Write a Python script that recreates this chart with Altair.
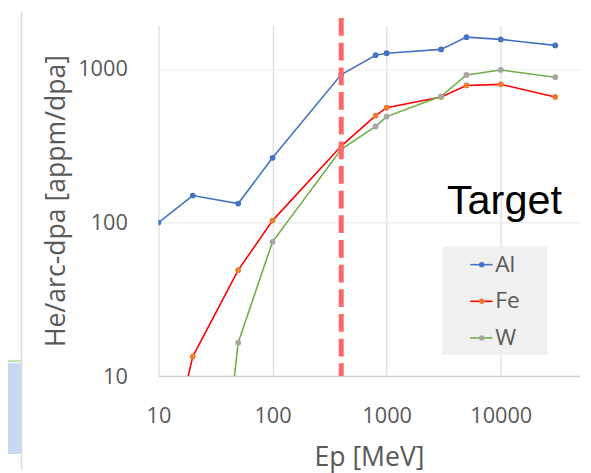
import altair as alt
import pandas as pd

# ---------------- data ----------------
energies = [10, 20, 50, 100, 400, 800, 1000, 3000, 5000, 10000, 30000]
al_values = [100, 150, 133, 264, 920, 1230, 1268, 1343, 1614, 1560, 1426]
fe_values = [1.5, 13.4, 49, 103, 315, 497, 560, 658, 782, 795, 658]
w_values = [None, 0.035, 16.5, 75, 300, 423, 490, 665, 915, 986, 885]
series = ["Al", "Fe", "W"]
line_colors = ["#4472C4", "#FF0000", "#70AD47"]
marker_colors = ["#4472C4", "#ED7D31", "#A5A5A5"]
x_ticks = [10, 100, 1000, 10000]
y_ticks = [10, 100, 1000]
target_energy = [400]

rows = []
for name, vals in zip(series, [al_values, fe_values, w_values]):
    for e, v in zip(energies, vals):
        if v is not None:
            rows.append({"Ep": e, "val": v, "series": name})
df = pd.DataFrame(rows)
legend_df = pd.DataFrame({"series": series})
rule_df = pd.DataFrame({"Ep": target_energy})

W, H = 427, 356
FONT = "Open Sans"
GRAY = "#595959"

xscale = alt.Scale(type="log", domain=[10, 49000], nice=False)
yscale = alt.Scale(type="log", domain=[10, 1936], nice=False)

x_axis = alt.Axis(
    values=x_ticks, format="d", labelFont=FONT, labelFontSize=22, labelColor=GRAY,
    labelPadding=30, ticks=False, tickSize=0, labelFlush=False, labelOverlap=False,
    domainColor="#d0d0d0", domainWidth=1.5, grid=True,
    gridColor="#e3e3e3",
    gridWidth=1.5, title="Ep [MeV]", titleFont=FONT, titleFontSize=27,
    titleFontWeight="normal", titleColor=GRAY, titleX=213.5, titleY=83,
    titleAlign="center", titleBaseline="middle",
)
y_axis = alt.Axis(
    values=y_ticks, format="d", labelFont=FONT, labelFontSize=22, labelColor=GRAY,
    labelPadding=31.5, ticks=False, tickSize=0, labelFlush=False, labelOverlap=False,
    domain=False, grid=True, gridColor="#efefef", gridWidth=1.5,
    title="He/arc-dpa [appm/dpa]", titleFont=FONT, titleFontSize=27,
    titleFontWeight="normal", titleColor=GRAY, titleX=-103.5, titleY=178,
    titleAlign="center", titleBaseline="middle", titleAngle=-90,
)

stroke_scale = alt.Scale(domain=series, range=line_colors)
fill_scale = alt.Scale(domain=series, range=marker_colors)

x_enc = alt.X("Ep:Q", scale=xscale, axis=x_axis)

lines = alt.Chart(df).mark_line(strokeWidth=1.6, clip=True).encode(
    x=x_enc,
    y=alt.Y("val:Q", scale=yscale, axis=y_axis),
    stroke=alt.Stroke("series:N", scale=stroke_scale, legend=None),
    detail="series:N",
)
points = alt.Chart(df).mark_point(filled=True, size=34, opacity=1, clip=True).encode(
    x=x_enc,
    y=alt.Y("val:Q", scale=yscale, axis=None),
    fill=alt.Fill("series:N", scale=fill_scale, legend=None),
)
rule = alt.Chart(rule_df).mark_rule(
    color="#ff6666", strokeWidth=5, strokeDash=[18, 7]
).encode(
    x=x_enc,
    y=alt.value(-7),
    y2=alt.value(H),
)

# legend
leg_y = alt.Y("series:N", scale=alt.Scale(type="point", domain=series, range=[243, 317.3], padding=0), axis=None)
dummy = alt.Data(values=[{"a": 1}])
leg_box = alt.Chart(dummy).mark_rect(color="#f0f0f0").encode(
    x=alt.value(287.8), x2=alt.value(394.5), y=alt.value(224.7), y2=alt.value(334.7)
)
leg_lines = alt.Chart(legend_df).mark_rule(strokeWidth=1.6).encode(
    x=alt.value(316.2), x2=alt.value(338.8), y=leg_y,
    stroke=alt.Stroke("series:N", scale=stroke_scale, legend=None),
)
leg_points = alt.Chart(legend_df).mark_point(filled=True, size=30, opacity=1).encode(
    x=alt.value(327.8), y=leg_y,
    fill=alt.Fill("series:N", scale=fill_scale, legend=None),
)
leg_text = alt.Chart(legend_df).mark_text(
    align="left", baseline="middle", font=FONT, fontSize=23, color=GRAY
).encode(x=alt.value(341.5), y=leg_y, text="series:N")

target = alt.Chart(dummy).mark_text(
    text="Target", align="left", baseline="alphabetic", font="Liberation Sans",
    fontSize=42, color="#000000"
).encode(x=alt.value(292.5), y=alt.value(192))

# slide decorations
border = alt.Chart(dummy).mark_rule(color="#d9d9d9", strokeWidth=1.5).encode(
    x=alt.value(-138.8), y=alt.value(-14), y2=alt.value(H + 95)
)
blue = alt.Chart(dummy).mark_rect(color="#c6d9f0").encode(
    x=alt.value(-152.5), x2=alt.value(-139.5), y=alt.value(343), y2=alt.value(435)
)
green = alt.Chart(dummy).mark_rect(color="#c9e3b8").encode(
    x=alt.value(-152.5), x2=alt.value(-139.5), y=alt.value(339.5), y2=alt.value(342)
)

chart = alt.layer(
    blue, green, border, lines, points, rule, leg_box, leg_lines, leg_points, leg_text, target
).resolve_scale(y="independent").properties(
    width=W, height=H,
    autosize=alt.AutoSizeParams(type="none"),
    padding={"left": 152.5, "top": 14, "right": 3.5, "bottom": 95},
    background="white",
).configure_view(stroke=None)

chart.save("out.html", embed_options={"renderer": "svg", "actions": False})
